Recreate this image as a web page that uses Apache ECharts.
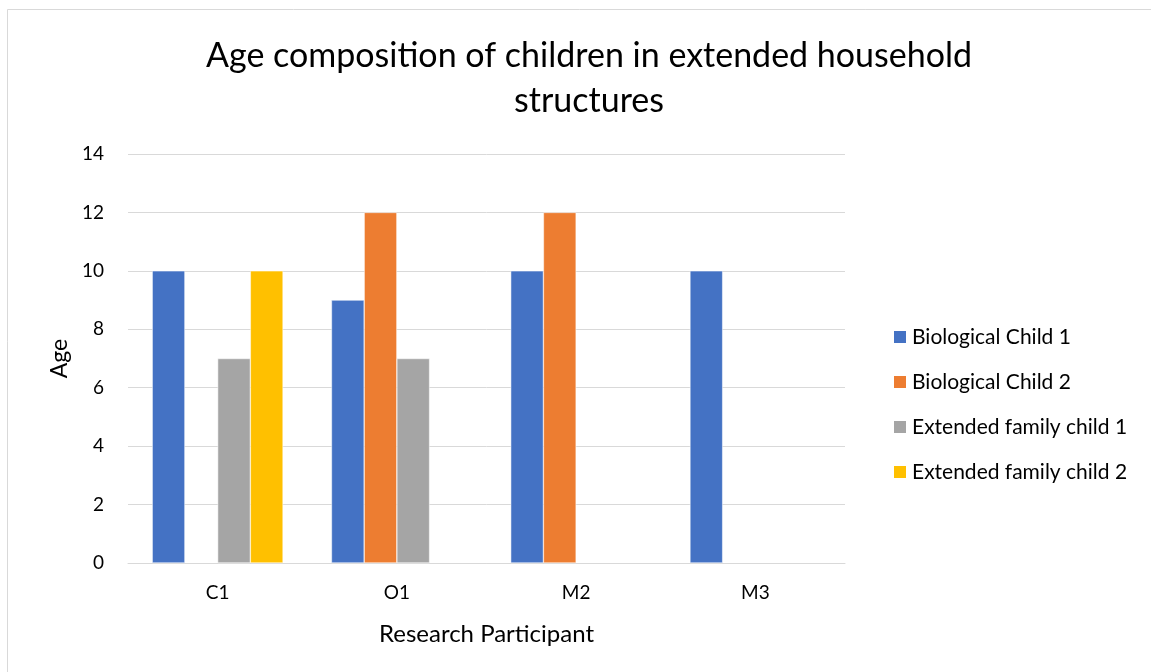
<!DOCTYPE html>
<html>
<head>
<meta charset="utf-8">
<script src="https://cdn.jsdelivr.net/npm/echarts@6/dist/echarts.min.js"></script>
<style>
  html, body { margin: 0; padding: 0; background: #fff; }
  #chart { width: 1151px; height: 672px; }
</style>
</head>
<body>
<div id="chart"></div>
<script>
// Participants on the category axis
const participants = ['C1', 'O1', 'M2', 'M3'];

// Ages per child type (null = no such child in the household)
const biologicalChild1 = [10, 9, 10, 10];
const biologicalChild2 = [null, 12, 12, null];
const extendedChild1 = [7, 7, null, null];
const extendedChild2 = [10, null, null, null];

const seriesNames = ['Biological Child 1', 'Biological Child 2', 'Extended family child 1', 'Extended family child 2'];
const seriesValues = [biologicalChild1, biologicalChild2, extendedChild1, extendedChild2];
const seriesColors = ['#4472C4', '#ED7D31', '#A5A5A5', '#FFC000'];

const FONT = 'Lato, "Open Sans", sans-serif';

const chart = echarts.init(document.getElementById('chart'), null, { renderer: 'canvas' });

chart.setOption({
  backgroundColor: '#ffffff',
  animation: false,
  graphic: [{
    type: 'rect',
    shape: { x: 7.5, y: 9.5, width: 1160, height: 700 },
    style: { fill: 'none', stroke: '#d9d9d9', lineWidth: 1 },
    silent: true
  }],
  title: {
    text: 'Age composition of children in extended household\nstructures',
    left: 584,
    textAlign: 'center',
    top: 29,
    textStyle: {
      fontFamily: FONT,
      fontSize: 34,
      fontWeight: 'normal',
      color: '#000000',
      lineHeight: 45
    }
  },
  legend: {
    orient: 'vertical',
    left: 887,
    top: 321,
    itemWidth: 14,
    itemHeight: 14,
    itemGap: 23,
    icon: 'rect',
    textStyle: { fontFamily: FONT, fontSize: 21, color: '#000000', lineHeight: 22 },
    data: seriesNames
  },
  grid: { left: 128, right: 306, top: 154, bottom: 109, containLabel: false },
  xAxis: {
    type: 'category',
    data: participants,
    name: 'Research Participant',
    nameLocation: 'middle',
    nameGap: 59,
    nameTextStyle: { fontFamily: FONT, fontSize: 24, color: '#000000' },
    axisLine: { show: true, lineStyle: { color: '#d9d9d9', width: 1 } },
    axisTick: { show: false },
    axisLabel: { fontFamily: FONT, fontSize: 19, color: '#000000', margin: 20 }
  },
  yAxis: {
    type: 'value',
    min: 0,
    max: 14,
    interval: 2,
    name: 'Age',
    nameLocation: 'middle',
    nameGap: 57,
    nameRotate: 90,
    nameTextStyle: { fontFamily: FONT, fontSize: 23, color: '#000000' },
    axisLine: { show: false },
    axisTick: { show: false },
    axisLabel: { fontFamily: FONT, fontSize: 19, color: '#000000', margin: 24 },
    splitLine: { lineStyle: { color: '#d9d9d9', width: 1 } }
  },
  series: seriesNames.map((name, i) => ({
    name: name,
    type: 'bar',
    data: seriesValues[i],
    barGap: '0%',
    barCategoryGap: '27%',
    itemStyle: { color: seriesColors[i], borderColor: '#ffffff', borderWidth: 0.5 }
  }))
});
</script>
</body>
</html>
